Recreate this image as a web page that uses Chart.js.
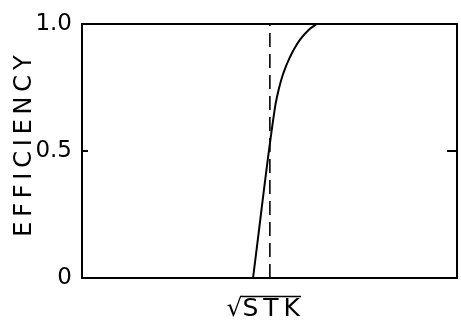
<!DOCTYPE html>
<html><head><meta charset="utf-8">
<script src="https://cdn.jsdelivr.net/npm/chart.js@4/dist/chart.umd.min.js"></script>
<style>html,body{margin:0;padding:0;background:#fff}#wrap{width:461px;height:328px;position:relative}</style>
</head><body><div id="wrap"><canvas id="c"></canvas></div>
<script>
// Efficiency curve vs sqrt(Stokes number) (x on an arbitrary 0-100 scale, no ticks)
const curveX = [45.6, 51.5, 52.0, 52.6, 53.3, 54.2, 55.3, 56.6, 58.2, 60.5, 62.7];
const curveY = [0.0, 0.674, 0.712, 0.75, 0.788, 0.826, 0.864, 0.902, 0.939, 0.977, 1.0];
// dashed vertical reference line (critical sqrt STK)
const refX = [50.1, 50.1];
const refY = [0, 1];
const yTickValues = [0, 0.5, 1];
const yTickLabels = ['0', '0.5', '1.0'];
const innerTickValues = [0.5];
const xRoot = '\u221A';
const xRadicand = 'S\u2009T\u2009K';
const xTrail = '\u2002';
const xTitle = xRoot + xRadicand + xTrail;
const yTitle = '\u2009\u2009E\u2009F\u2009F\u2009I\u2009C\u2009I\u2009E\u2009N\u2009C\u2009Y';

const FONT = 'DejaVu Sans';
const XT_SIZE = 25, XT_PAD = 4;
const toPts = (xs, ys) => xs.map((x, i) => ({x, y: ys[i]}));

const innerTicks = {
  id: 'innerTicks',
  afterDatasetsDraw(chart) {
    const {ctx, chartArea: a, scales: {y}} = chart;
    ctx.save();
    ctx.strokeStyle = '#000';
    ctx.lineWidth = 2;
    ctx.beginPath();
    innerTickValues.forEach(v => {
      const py = y.getPixelForValue(v);
      ctx.moveTo(a.left, py); ctx.lineTo(a.left + 6, py);
      ctx.moveTo(a.right, py); ctx.lineTo(a.right - 10, py);
    });
    ctx.stroke();
    ctx.restore();
  }
};

// vinculum (overline) of the square-root sign in the x-axis title
const vinculum = {
  id: 'vinculum',
  afterDraw(chart) {
    const {ctx, scales: {x}} = chart;
    ctx.save();
    ctx.font = XT_SIZE + 'px "' + FONT + '"';
    const total = ctx.measureText(xTitle).width;
    const rootW = ctx.measureText(xRoot).width;
    const radW = ctx.measureText(xRadicand).width;
    const cx = (x.left + x.right) / 2;
    const cy = x.bottom - XT_SIZE * 1.2 / 2 - XT_PAD;
    const x0 = cx - total / 2 + rootW - 1;
    const yTop = cy - XT_SIZE * 0.5;
    ctx.strokeStyle = '#000';
    ctx.lineWidth = 1.6;
    ctx.beginPath();
    ctx.moveTo(x0, yTop);
    ctx.lineTo(x0 + radW + 2, yTop);
    ctx.stroke();
    ctx.restore();
  }
};

const hiddenGrid = {display: true, drawOnChartArea: false, drawTicks: false, color: 'rgba(0,0,0,0)'};
const blackBorder = {display: true, color: '#000', width: 2};

new Chart(document.getElementById('c'), {
  type: 'scatter',
  data: {
    datasets: [
      {data: toPts(curveX, curveY), showLine: true, borderColor: '#000', borderWidth: 2,
       pointRadius: 0, cubicInterpolationMode: 'monotone', fill: false},
      {data: toPts(refX, refY), showLine: true, borderColor: '#000', borderWidth: 1.6,
       borderDash: [14, 7], pointRadius: 0, fill: false}
    ]
  },
  options: {
    responsive: true, maintainAspectRatio: false, animation: false, devicePixelRatio: 1,
    layout: {padding: {top: 14, right: 4, left: 0, bottom: 0}},
    plugins: {legend: {display: false}, tooltip: {enabled: false}},
    scales: {
      x: {
        type: 'linear', position: 'bottom', min: 0, max: 100,
        ticks: {display: false}, grid: hiddenGrid, border: blackBorder,
        title: {display: true, text: xTitle, color: '#000',
                font: {family: FONT, size: XT_SIZE, lineHeight: 1.2}, padding: {top: 0, bottom: XT_PAD}},
        afterFit: s => { s.height = 50; }
      },
      y: {
        type: 'linear', position: 'left', min: 0, max: 1,
        afterBuildTicks: s => { s.ticks = yTickValues.map(v => ({value: v})); },
        ticks: {color: '#000', font: {family: FONT, size: 23}, padding: 10,
                callback: v => yTickLabels[yTickValues.indexOf(v)]},
        grid: hiddenGrid, border: blackBorder,
        title: {display: true, text: yTitle, color: '#000',
                font: {family: FONT, size: 24}, padding: {top: 10, bottom: 0}},
        afterFit: s => { s.width = 82; }
      },
      x2: {
        type: 'linear', position: 'top', min: 0, max: 100, display: true,
        ticks: {display: false}, grid: hiddenGrid, border: blackBorder,
        afterFit: s => { s.height = 0; }
      },
      y2: {
        type: 'linear', position: 'right', min: 0, max: 1, display: true,
        ticks: {display: false}, grid: hiddenGrid, border: blackBorder,
        afterFit: s => { s.width = 0; }
      }
    }
  },
  plugins: [innerTicks, vinculum]
});
</script>
</body></html>
